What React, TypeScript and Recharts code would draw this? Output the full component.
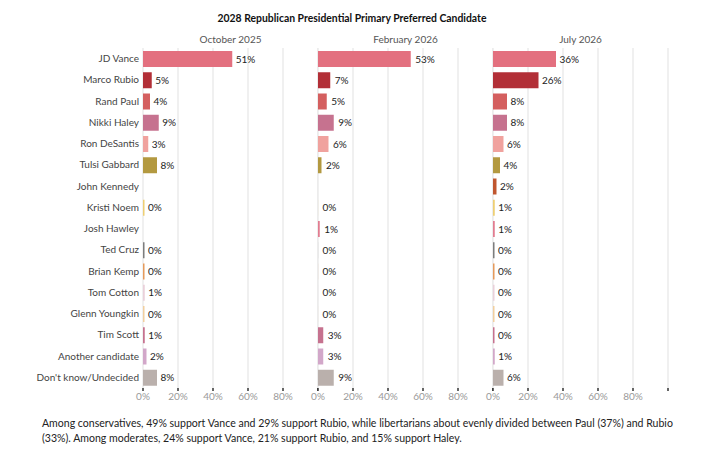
import React from "react";
import { BarChart, Bar, XAxis, YAxis, CartesianGrid, Cell, LabelList } from "recharts";

const CANDIDATES = [
  "JD Vance",
  "Marco Rubio",
  "Rand Paul",
  "Nikki Haley",
  "Ron DeSantis",
  "Tulsi Gabbard",
  "John Kennedy",
  "Kristi Noem",
  "Josh Hawley",
  "Ted Cruz",
  "Brian Kemp",
  "Tom Cotton",
  "Glenn Youngkin",
  "Tim Scott",
  "Another candidate",
  "Don't know/Undecided",
];

const OCT_2025 = [51, 5, 4, 9, 3, 8, null, 0, null, 0, 0, 1, 0, 1, 2, 8];
const FEB_2026 = [53, 7, 5, 9, 6, 2, null, 0, 1, 0, 0, 0, 0, 3, 3, 9];
const JUL_2026 = [36, 26, 8, 8, 6, 4, 2, 1, 1, 0, 0, 0, 0, 0, 1, 6];

const BAR_COLORS = [
  "#e3707f",
  "#b22f37",
  "#d45f5f",
  "#c6728f",
  "#f0a29e",
  "#b39940",
  "#c0562f",
  "#eecf73",
  "#e27c90",
  "#7d7d7d",
  "#e59a5b",
  "#ead0da",
  "#f2cf9e",
  "#c6728f",
  "#d2a7c9",
  "#bab0ac",
];

const PANEL_TITLES = ["October 2025", "February 2026", "July 2026"];
const X_TICKS = [0, 20, 40, 60, 80, 100];

const FONT = "Lato, 'Open Sans', sans-serif";

const rows = CANDIDATES.map((name, i) => ({
  name,
  oct: OCT_2025[i],
  feb: FEB_2026[i],
  jul: JUL_2026[i],
}));

// plot area of every panel is 175px wide: 143-318, 318-493, 493-668
const panels = [
  { key: "oct", left: 0, width: 318, yAxis: true, marginLeft: 0, right: 0, minBar: 1.5, offset: 3.5 },
  { key: "feb", left: 298, width: 195, yAxis: false, marginLeft: 20, right: 0, minBar: 0.05, offset: 4.5 },
  { key: "jul", left: 473, width: 231, yAxis: false, marginLeft: 20, right: 36, minBar: 1.5, offset: 3.5 },
];

const NameTick = (props: any) => (
  <text
    x={props.x}
    y={props.y}
    dy={3.5}
    textAnchor="end"
    fill="#444"
    fontSize={10}
    fontFamily={FONT}
  >
    {props.payload.value}
  </text>
);

function Panel({ p }: { p: (typeof panels)[number] }) {
  return (
    <BarChart
      width={p.width}
      height={410}
      data={rows}
      layout="vertical"
      margin={{ top: 48, right: p.right, bottom: 2, left: p.marginLeft }}
      barCategoryGap={2}
    >
      <CartesianGrid horizontal={false} stroke="#ebebeb" strokeWidth={1.5} />
      <XAxis
        type="number"
        domain={[0, 100]}
        ticks={X_TICKS}
        interval={0}
        height={20}
        axisLine={false}
        tickLine={{ stroke: "#333", strokeWidth: 1.5 }}
        tickSize={3}
        tickMargin={2}
        tick={{ fill: "#9a9a9a", fontSize: 10, fontFamily: FONT }}
        tickFormatter={(v) => (v === 100 ? "" : `${v}%`)}
      />
      <YAxis
        type="category"
        dataKey="name"
        hide={!p.yAxis}
        width={143}
        axisLine={false}
        tickLine={false}
        tickSize={4}
        tickMargin={0}
        interval={0}
        tick={<NameTick />}
      />
      <Bar
        dataKey={p.key}
        barSize={16}
        isAnimationActive={false}
        minPointSize={(v: any) => (v == null ? 0 : p.minBar)}
      >
        {rows.map((_, i) => (
          <Cell key={i} fill={BAR_COLORS[i]} />
        ))}
        <LabelList
          dataKey={p.key}
          position="right"
          offset={p.offset}
          formatter={(v: any) => (v == null ? "" : `${v}%`)}
          style={{ fill: "#222", fontSize: 10, fontFamily: FONT }}
        />
      </Bar>
    </BarChart>
  );
}

export default function App() {
  return (
    <div
      style={{
        position: "absolute",
        left: 0,
        top: 0,
        width: 704,
        height: 454,
        background: "#fff",
        fontFamily: FONT,
        color: "#222",
      }}
    >
      <div
        style={{
          position: "absolute",
          top: 12,
          left: 0,
          width: 704,
          textAlign: "center",
          fontSize: 10.4,
          fontWeight: 700,
          color: "#111",
        }}
      >
        2028 Republican Presidential Primary Preferred Candidate
      </div>
      {panels.map((p, i) => (
        <div key={p.key}>
          <div
            style={{
              position: "absolute",
              top: 33,
              left: 143 + i * 175,
              width: 175,
              textAlign: "center",
              fontSize: 10,
              color: "#555",
            }}
          >
            {PANEL_TITLES[i]}
          </div>
          <div style={{ position: "absolute", left: p.left, top: 0 }}>
            <Panel p={p} />
          </div>
        </div>
      ))}
      <div
        style={{
          position: "absolute",
          top: 416,
          left: 42,
          fontSize: 10.55,
          lineHeight: "15px",
          whiteSpace: "nowrap",
          color: "#222",
        }}
      >
        Among conservatives, 49% support Vance and 29% support Rubio, while libertarians about evenly divided between Paul (37%) and Rubio
        <br />
        (33%). Among moderates, 24% support Vance, 21% support Rubio, and 15% support Haley.
      </div>
    </div>
  );
}
